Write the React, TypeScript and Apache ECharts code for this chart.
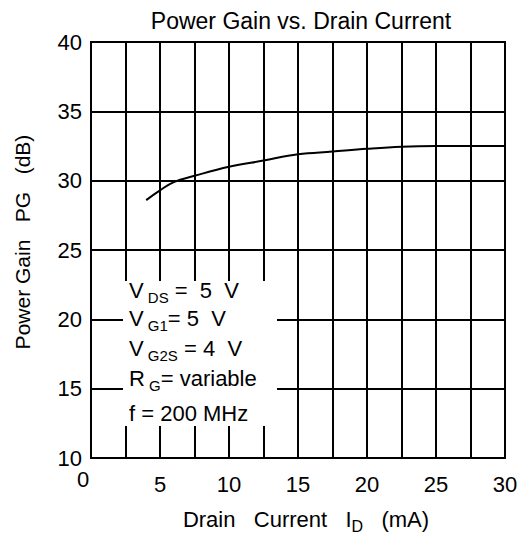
import React, { useEffect, useRef } from "react";
import * as echarts from "echarts";

const curveX = [4, 5, 6, 7.5, 10, 12.5, 15, 17.5, 20, 22.5, 25, 30];
const curveY = [28.6, 29.3, 29.9, 30.35, 31.0, 31.45, 31.9, 32.1, 32.3, 32.45, 32.5, 32.5];
const titleText = "Power Gain vs. Drain Current";
const yName = "Power Gain   PG   (dB)";
const conditionLines = [
  "{n|V}{s| DS}{n| =  5  V}",
  "{n|V}{s| G1}{n|= 5  V}",
  "{n|V}{s| G2S}{n| = 4  V}",
  "{n|R}{s| G}{n|= variable}",
  "{n|f = 200 MHz}",
];

const FONT = "Liberation Sans, Arial, sans-serif";

export default function App() {
  const ref = useRef<HTMLDivElement>(null);
  useEffect(() => {
    if (!ref.current) return;
    const chart = echarts.init(ref.current, null, { renderer: "svg" });
    const rich = {
      n: { fontSize: 22, lineHeight: 22, color: "#000", fontFamily: FONT },
      s: { fontSize: 15, lineHeight: 14, padding: [14, 0, 0, 0], color: "#000", fontFamily: FONT },
    };
    const tops = [279, 307, 337, 367, 402];
    chart.setOption({
      animation: false,
      backgroundColor: "#fff",
      textStyle: { fontFamily: FONT, color: "#000" },
      title: {
        text: titleText,
        left: 296,
        textAlign: "center",
        top: 4,
        textStyle: { fontSize: 23, fontWeight: "normal", color: "#000", fontFamily: FONT },
      },
      grid: {
        left: 91,
        right: 21,
        top: 42,
        bottom: 86,
        show: true,
        borderColor: "#000",
        borderWidth: 2,
        backgroundColor: "transparent",
      },
      xAxis: {
        type: "value",
        min: 0,
        max: 30,
        interval: 5,
        name: "{n|Drain   Current   I}{s|D}{n|   (mA)}",
        nameLocation: "middle",
        nameGap: 50,
        nameTextStyle: {
          rich: {
            n: { fontSize: 22, lineHeight: 22, color: "#000", fontFamily: FONT },
            s: { fontSize: 16, lineHeight: 14, padding: [14, 0, 0, 0], color: "#000", fontFamily: FONT },
          },
          padding: [0, 0, 0, 16],
        },
        axisLine: { show: true, lineStyle: { color: "#000", width: 2 } },
        axisTick: { show: false },
        minorTick: { show: false, splitNumber: 2 },
        minorSplitLine: { show: true, lineStyle: { color: "#000", width: 2 } },
        splitLine: { show: true, lineStyle: { color: "#000", width: 2 } },
        axisLabel: {
          fontSize: 22,
          color: "#000",
          margin: 15,
          fontFamily: FONT,
          formatter: (v: number) => (v === 0 ? "{z|0}" : String(v)),
          rich: { z: { fontSize: 22, lineHeight: 12, color: "#000", fontFamily: FONT, padding: [0, 16, 0, 0] } },
        },
      },
      yAxis: {
        type: "value",
        min: 10,
        max: 40,
        interval: 5,
        name: yName,
        nameLocation: "middle",
        nameGap: 58,
        nameTextStyle: { fontSize: 21, color: "#000", fontFamily: FONT, padding: [0, 0, 0, 16] },
        axisLine: { show: true, lineStyle: { color: "#000", width: 2 } },
        axisTick: { show: false },
        splitLine: { show: true, lineStyle: { color: "#000", width: 2 } },
        axisLabel: { fontSize: 22, color: "#000", margin: 9, fontFamily: FONT },
      },
      graphic: [
        {
          type: "rect",
          z: 50,
          shape: { x: 123, y: 281, width: 154, height: 145 },
          style: { fill: "#fff" },
        },
        ...conditionLines.map((t, i) => ({
          type: "text",
          z: 60,
          x: 129,
          y: tops[i],
          style: { text: t, rich, fill: "#000", font: `22px ${FONT}` },
        })),
      ],
      series: [
        {
          type: "line",
          data: curveX.map((x, i) => [x, curveY[i]]),
          smooth: 0.4,
          showSymbol: false,
          lineStyle: { color: "#000", width: 2 },
          z: 5,
        },
      ],
    });
    return () => chart.dispose();
  }, []);
  return <div ref={ref} style={{ width: 526, height: 544, margin: -8 }} />;
}
